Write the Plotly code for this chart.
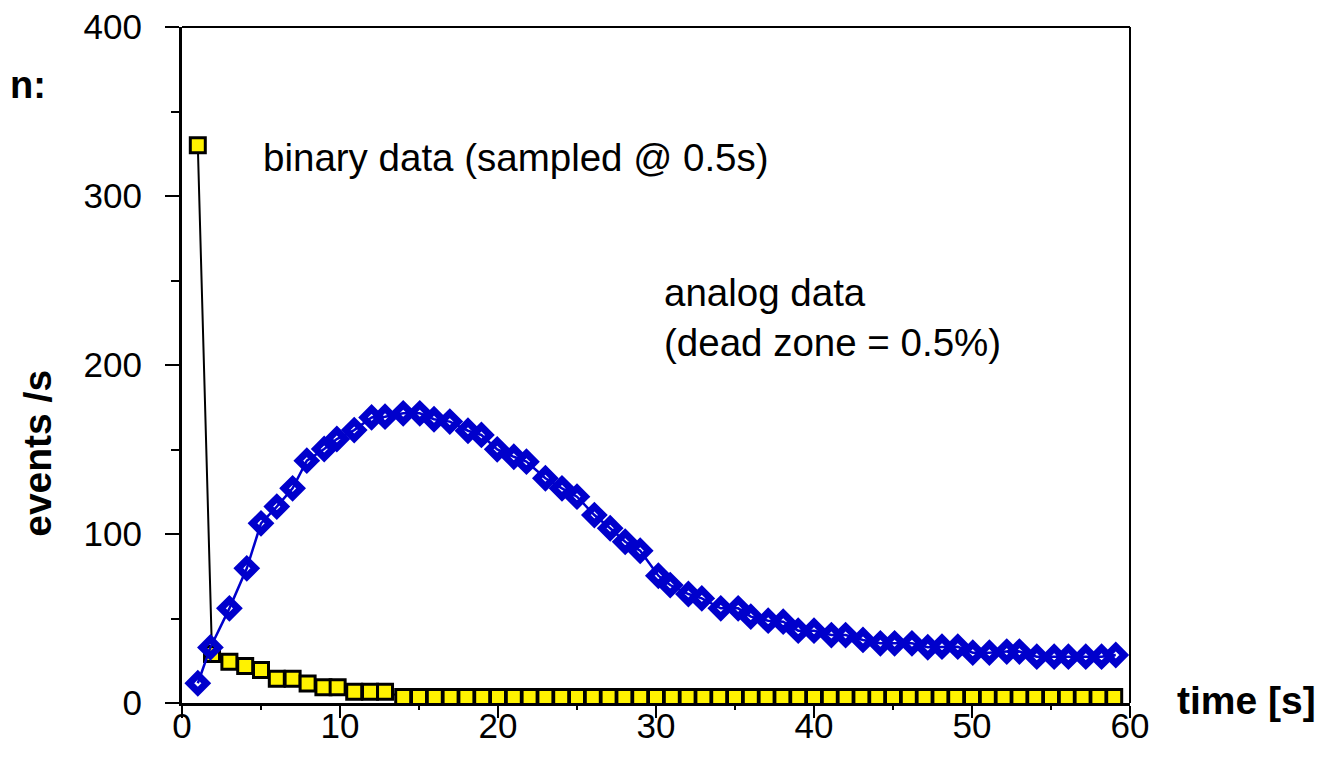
import plotly.graph_objects as go

FONT = "Liberation Sans, Arial, sans-serif"

# binary data (sampled) -- time [s] and events /s
binary_t = [1, 1.9, 3, 4, 5, 6, 7, 7.95, 8.95, 9.85, 10.9, 11.9, 12.85, 14, 15, 16, 17,
            18, 19, 20, 21, 22, 23, 24, 25, 26, 27, 28, 29, 30, 31, 32, 33, 34, 35, 36,
            37, 38, 39, 40, 41, 42, 43, 44, 45, 46, 47, 48, 49, 50, 51, 52, 53, 54, 55,
            56, 57, 58, 59]
binary_y = [330, 29, 24.4, 21.9, 19.5, 14.4, 14.4, 11.6, 9.3, 9.3, 6.7, 6.7, 6.7, 3.5, 3.5,
            3.5, 3.5, 3.5, 3.5, 3.5, 3.5, 3.5, 3.5, 3.5, 3.5, 3.5, 3.5, 3.5, 3.5, 3.5, 3.5,
            3.5, 3.5, 3.5, 3.5, 3.5, 3.5, 3.5, 3.5, 3.5, 3.5, 3.5, 3.5, 3.5, 3.5, 3.5, 3.5,
            3.5, 3.5, 3.5, 3.5, 3.5, 3.5, 3.5, 3.5, 3.5, 3.5, 3.5, 3.5]

# analog data (dead zone = 0.5%)
analog_t = [1.0, 1.8, 3.0, 4.1, 5.0, 6.0, 7.0, 7.9, 9.0, 9.8, 10.9, 12.0, 12.85, 14.0,
            15.05, 15.95, 16.95, 18.1, 18.95, 19.95, 21.0, 21.8, 23.0, 24.05, 25.0, 26.1,
            27.1, 28.05, 29.0, 30.15, 30.9, 32.05, 32.9, 34.1, 35.2, 36.0, 37.1, 38.05,
            39.0, 40.0, 41.1, 42.0, 43.1, 44.2, 45.1, 46.2, 47.2, 48.1, 49.1, 50.05, 51.1,
            52.2, 53.0, 54.1, 55.2, 56.1, 57.2, 58.2, 59.1]
analog_y = [11.7, 32.9, 56, 79.7, 106.3, 116.2, 127, 143.4, 150.3, 156.2, 161.5, 169, 169.4,
            171.4, 171.4, 167.9, 166.5, 161.1, 158.6, 150.1, 145.7, 142.8, 133, 127, 122.1,
            111.2, 103.4, 95.4, 90.1, 75.3, 69.8, 64.5, 61.9, 56, 56, 51.1, 48.7, 48.1,
            42.8, 42.8, 40.2, 40.2, 37.3, 35.3, 35.3, 35.3, 33, 33.3, 33.3, 29.8, 29.8,
            30.4, 30.4, 27.4, 27.4, 27.4, 27.4, 27.4, 28.4]

fig = go.Figure()
fig.add_trace(go.Scatter(
    x=binary_t, y=binary_y, mode="lines+markers",
    line=dict(color="black", width=2),
    marker=dict(symbol="square", size=15, color="#FFF200",
                line=dict(color="black", width=3)),
    cliponaxis=False, showlegend=False,
))
fig.add_trace(go.Scatter(
    x=analog_t, y=analog_y, mode="lines+markers",
    line=dict(color="#0000CC", width=2.5),
    marker=dict(symbol="diamond-open", size=13, color="#0000CC",
                line=dict(color="#0000CC", width=7)),
    cliponaxis=False, showlegend=False,
))

axis_common = dict(
    showline=True, linecolor="black", linewidth=3, ticks="outside",
    tickcolor="black", tickwidth=2, showgrid=False, zeroline=False,
    automargin=False, ticklabeloverflow="allow",
    tickfont=dict(family=FONT, size=35, color="black"),
)
fig.update_xaxes(range=[0, 60], dtick=10, ticklen=12, ticklabelstandoff=-22,
                 minor=dict(dtick=5, ticks="outside", ticklen=4, tickcolor="black", tickwidth=2),
                 **axis_common)
fig.update_yaxes(range=[0, 400], dtick=100, ticklen=14, ticklabelstandoff=16,
                 minor=dict(dtick=50, ticks="outside", ticklen=8, tickcolor="black", tickwidth=2),
                 **axis_common)

fig.update_layout(
    width=1329, height=768,
    margin=dict(l=174, r=207, t=19, b=73),
    plot_bgcolor="white", paper_bgcolor="white",
    font=dict(family=FONT, color="black"),
    shapes=[
        dict(type="line", xref="paper", yref="paper", x0=0, x1=1, y0=1, y1=1,
             line=dict(color="black", width=2)),
        dict(type="line", xref="paper", yref="paper", x0=1, x1=1, y0=0, y1=1,
             line=dict(color="black", width=2)),
    ],
    annotations=[
        dict(text="binary data (sampled @ 0.5s)", x=5.0, y=323, xref="x", yref="y",
             xanchor="left", yanchor="middle", showarrow=False,
             font=dict(family=FONT, size=38.5)),
        dict(text="analog data<br>(dead zone = 0.5%)", x=30.4, y=228, xref="x", yref="y",
             xanchor="left", yanchor="middle", align="left", showarrow=False,
             font=dict(family=FONT, size=38.5)),
        dict(text="<b>events /s</b>", x=-0.152, y=0.37, xref="paper", yref="paper",
             textangle=-90, xanchor="center", yanchor="middle", showarrow=False,
             font=dict(family=FONT, size=39)),
        dict(text="<b>time [s]</b>", x=1.0475, y=0.0044, xref="paper", yref="paper",
             xanchor="left", yanchor="middle", showarrow=False,
             font=dict(family=FONT, size=39)),
        dict(text="<b>n:</b>", x=-0.1835, y=0.914, xref="paper", yref="paper",
             xanchor="left", yanchor="middle", showarrow=False,
             font=dict(family=FONT, size=38)),
    ],
)

fig.write_html("out.html")
